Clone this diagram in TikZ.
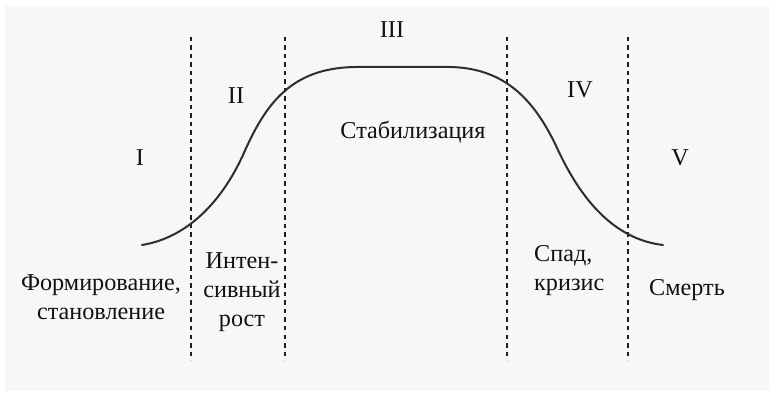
\documentclass[tikz,border=0pt]{standalone}
\usepackage{fontspec}
\setmainfont{Liberation Serif}
\usetikzlibrary{positioning}
\definecolor{clrcurve}{HTML}{2E2E2E}
\definecolor{clrdash}{HTML}{1E1E1E}
\definecolor{clrtext}{HTML}{111111}
\definecolor{clrback}{HTML}{F7F7F7}

\begin{document}
\begin{tikzpicture}[
    x=1pt, y=-1pt,
    every node/.style={font=\fontsize{24.2}{29}\selectfont, text=clrtext},
    boundary/.style={draw=clrdash, line width=2.2pt, dash pattern=on 4.5pt off 4pt},
    lifecurve/.style={draw=clrcurve, line width=2pt, line cap=round},
    stagenum/.style={inner sep=1pt},
    stagetext/.style={inner sep=0pt, align=center},
]
\useasboundingbox (0,0) rectangle (779,403);
\fill[clrback] (5,6) rectangle (769,391);
% stage boundaries
\draw[boundary] (191,37) -- (191,360);
\draw[boundary] (285,37) -- (285,360);
\draw[boundary] (507,37) -- (507,360);
\draw[boundary] (628,37) -- (628,360);
% life cycle curve
\coordinate (c_start) at (142,245);
\coordinate (c_rise) at (243,155);
\coordinate (c_top_l) at (355,67);
\coordinate (c_top_r) at (450,67);
\coordinate (c_fall) at (558,150);
\coordinate (c_end) at (663,245);
\draw[lifecurve] (c_start) .. controls (185,238) and (220,205) .. (c_rise)
    .. controls (265,105) and (290,68) .. (c_top_l) -- (c_top_r)
    .. controls (505,68) and (535,100) .. (c_fall)
    .. controls (585,208) and (620,240) .. (c_end);
% stage numbers
\node[stagenum] (num_1) at (140,158) {I};
\node[stagenum] (num_2) at (236,96) {II};
\node[stagenum] (num_3) at (392,30) {III};
\node[stagenum] (num_4) at (580,90) {IV};
\node[stagenum] (num_5) at (680,158) {V};
% stage names
\node[stagetext] (txt_1) at (101,297) {Формирование,\\становление};
\node[stagetext] (txt_2) at (242,292) {Интен-\\сивный\\рост};
\node[stagetext] (txt_3) at (413,132) {Стабилизация};
\node[stagetext, align=left, anchor=west] (txt_4) at (534,271) {Спад,\\кризис};
\node[stagetext] (txt_5) at (687,290) {Смерть};
\end{tikzpicture}
\end{document}
